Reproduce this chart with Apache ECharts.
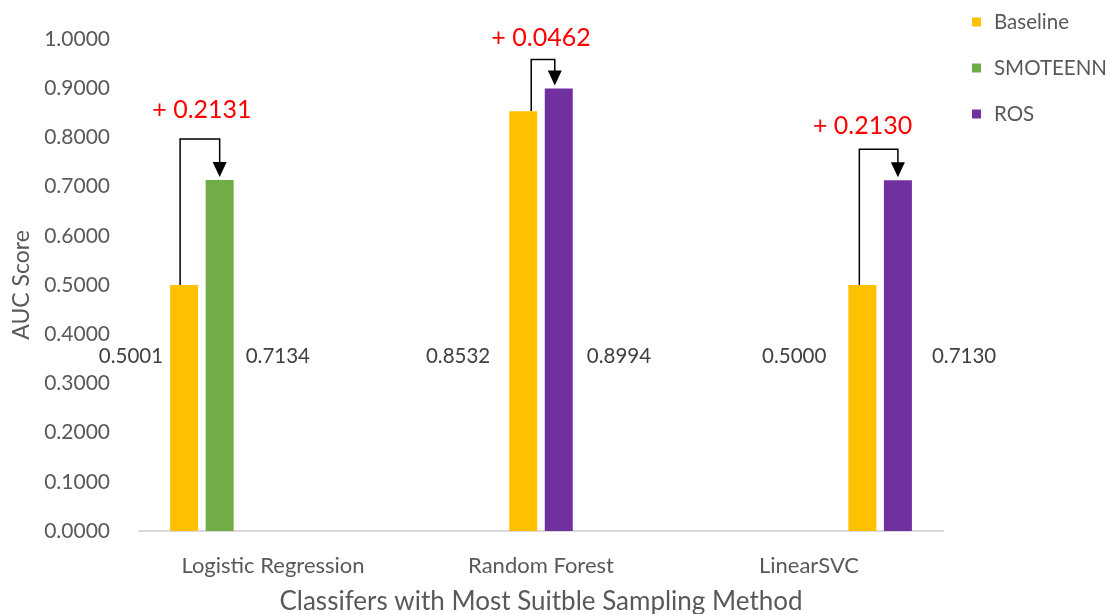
<!DOCTYPE html>
<html>
<head>
<meta charset="utf-8">
<title>AUC Score by Classifier</title>
<script src="https://cdn.jsdelivr.net/npm/echarts@6/dist/echarts.min.js"></script>
<style>
  html, body { margin: 0; padding: 0; background: #ffffff; }
  #chart { width: 1106px; height: 614px; }
</style>
</head>
<body>
<div id="chart"></div>
<script>
// Classifiers and their AUC before / after the best sampling method
const categories = ['Logistic Regression', 'Random Forest', 'LinearSVC'];
const baselineAuc = [0.5001, 0.8532, 0.5000];
const sampledAuc = [0.7134, 0.8994, 0.7130];
const samplingMethod = ['SMOTEENN', 'ROS', 'ROS'];
const aucGain = [0.2131, 0.0462, 0.2130];
const legendNames = ['Baseline', 'SMOTEENN', 'ROS'];
const yTickMin = 0, yTickMax = 1, yTickStep = 0.1;

// Styling
const FONT = 'Lato, "Liberation Sans", sans-serif';
const COLORS = { Baseline: '#FFC000', SMOTEENN: '#70AD47', ROS: '#7030A0' };
const VALUE_LABEL_LEVEL = 0.355;          // value-axis height where bar labels sit
const LABEL_GAP_LEFT = [7, 19, 22];       // px between baseline label and its bar
const LABEL_GAP_RIGHT = [12, 14, 20];     // px between sampled label and its bar
const BRACKET_RISE = [41, 29, 31];        // px the bracket sits above the taller bar
const BRACKET_NUDGE = [[-4, 0], [8, -4], [-3, 0]]; // px shift of bracket legs
const GAIN_TEXT_DX = [2, -2, -16];
const GAIN_TEXT_RISE = [29, 22, 23];

const chart = echarts.init(document.getElementById('chart'), null, { renderer: 'canvas' });

// One bar series per (classifier, method) so every classifier gets its own slot pair
function buildSeries(labelCfg) {
  const series = [];
  categories.forEach((cat, i) => {
    const pairs = [
      { name: 'Baseline', value: baselineAuc[i] },
      { name: samplingMethod[i], value: sampledAuc[i] }
    ];
    pairs.forEach((p, k) => {
      series.push({
        type: 'bar',
        name: p.name,
        barWidth: 28,
        barGap: '27%',
        itemStyle: { color: COLORS[p.name] },
        emphasis: { disabled: true },
        animation: false,
        data: categories.map((_, j) => {
          if (j !== i) return null;
          const item = { value: p.value };
          item.label = labelCfg ? labelCfg(i, k, p) : { show: false };
          return item;
        })
      });
    });
  });
  return series;
}

const option = {
  backgroundColor: '#ffffff',
  textStyle: { fontFamily: FONT },
  grid: { left: 139, right: 163, top: 39, bottom: 83, outerBoundsMode: 'none', containLabel: false },
  legend: {
    data: legendNames,
    orient: 'vertical',
    left: 967,
    top: 6,
    icon: 'rect',
    itemWidth: 9,
    itemHeight: 9,
    itemGap: 24,
    selectedMode: false,
    textStyle: { fontFamily: FONT, fontSize: 20.5, color: '#595959', lineHeight: 22, padding: [0, 0, 0, 8] }
  },
  xAxis: {
    type: 'category',
    data: categories,
    name: 'Classifers with Most Suitble Sampling Method',
    nameLocation: 'middle',
    nameGap: 58,
    nameTextStyle: { fontFamily: FONT, fontSize: 26, color: '#595959' },
    axisLine: { lineStyle: { color: '#D9D9D9', width: 2 } },
    axisTick: { show: false },
    axisLabel: { fontFamily: FONT, fontSize: 22, color: '#595959', margin: 24 }
  },
  yAxis: {
    type: 'value',
    min: yTickMin,
    max: yTickMax,
    interval: yTickStep,
    name: 'AUC Score',
    nameLocation: 'middle',
    nameRotate: 90,
    nameGap: 106,
    nameTextStyle: { fontFamily: FONT, fontSize: 23, color: '#595959' },
    axisLine: { show: false },
    axisTick: { show: false },
    splitLine: { show: false },
    axisLabel: {
      fontFamily: FONT, fontSize: 21, color: '#595959', margin: 29,
      formatter: v => v.toFixed(4)
    }
  },
  series: buildSeries(null)
};

chart.setOption(option);

// Second pass: place value labels and gain brackets from the laid-out bars
function barRect(seriesIndex, dataIndex) {
  const layout = chart.getModel().getSeriesByIndex(seriesIndex).getData().getItemLayout(dataIndex);
  const top = Math.min(layout.y, layout.y + layout.height);
  const bottom = Math.max(layout.y, layout.y + layout.height);
  return { left: layout.x, right: layout.x + layout.width, cx: layout.x + layout.width / 2, top, bottom };
}

const labelY = chart.convertToPixel({ yAxisIndex: 0 }, VALUE_LABEL_LEVEL);

const labelCfg = (i, k, p) => {
  const r = barRect(i * 2 + k, i);
  const midY = (r.top + r.bottom) / 2;
  return {
    show: true,
    position: k === 0 ? 'left' : 'right',
    distance: k === 0 ? LABEL_GAP_LEFT[i] : LABEL_GAP_RIGHT[i],
    offset: [0, labelY - midY],
    formatter: () => p.value.toFixed(4),
    fontFamily: FONT,
    fontSize: 20.5,
    color: '#404040'
  };
};

const graphics = [];
categories.forEach((cat, i) => {
  const base = barRect(i * 2, i);
  const samp = barRect(i * 2 + 1, i);
  const xL = base.cx + BRACKET_NUDGE[i][0];
  const xR = samp.cx + BRACKET_NUDGE[i][1];
  const yTop = Math.min(base.top, samp.top) - BRACKET_RISE[i];
  const tipY = samp.top - 3;
  const headH = 15, headW = 14;
  graphics.push({
    type: 'polyline',
    silent: true,
    shape: { points: [[xL, base.top], [xL, yTop], [xR, yTop], [xR, tipY - headH + 1]] },
    style: { stroke: '#000000', lineWidth: 1.5, fill: null }
  });
  graphics.push({
    type: 'polygon',
    silent: true,
    shape: { points: [[xR - headW / 2, tipY - headH], [xR + headW / 2, tipY - headH], [xR, tipY]] },
    style: { fill: '#000000' }
  });
  graphics.push({
    type: 'text',
    silent: true,
    x: (xL + xR) / 2 + GAIN_TEXT_DX[i],
    y: yTop - GAIN_TEXT_RISE[i],
    style: {
      text: '+ ' + aucGain[i].toFixed(4),
      fontFamily: FONT,
      fontSize: 25,
      fill: '#FF0000',
      align: 'center',
      verticalAlign: 'middle'
    }
  });
});

chart.setOption({ series: buildSeries(labelCfg), graphic: graphics });
</script>
</body>
</html>
